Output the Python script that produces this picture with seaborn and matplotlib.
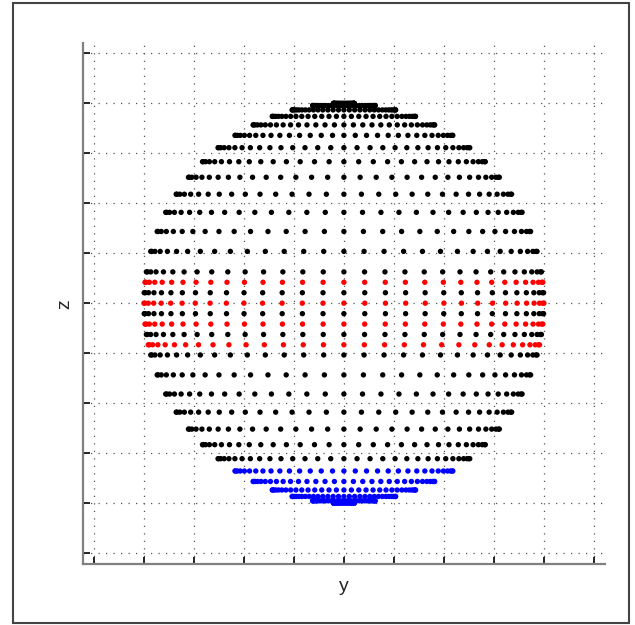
import numpy as np
import pandas as pd
import matplotlib
matplotlib.use('Agg')
import matplotlib.pyplot as plt
from matplotlib.patches import Rectangle
import seaborn as sns

# latitude rows (degrees), by colour
black_lat = [87, 81, 75, 69, 63, 57, 51, 45, 39, 33, 27, 21, 15, 9, 3,
             -3, -9, -15, -21, -27, -33, -39, -45, -51]
blue_lat = [-57, -63, -69, -75, -81, -87]
red_lat = [6, 0, -6, -12]

# longitudes of the columns (front half, back half overlaps it)
lon_deg = [-90, -84, -78, -72, -66, -60, -54, -48, -42, -36, -30, -24, -18, -12, -6,
           0, 6, 12, 18, 24, 30, 36, 42, 48, 54, 60, 66, 72, 78, 84, 90]

tick_vals = [-1.25, -1.0, -0.75, -0.5, -0.25, 0.0, 0.25, 0.5, 0.75, 1.0, 1.25]


def sphere_rows(lats, group):
    la, lo = np.meshgrid(np.radians(lats), np.radians(lon_deg), indexing='ij')
    return pd.DataFrame({
        'y': (np.cos(la) * np.sin(lo)).ravel(),
        'z': np.sin(la).ravel(),
        'group': group,
    })


df = pd.concat([sphere_rows(black_lat, 'black'),
                sphere_rows(red_lat, 'red'),
                sphere_rows(blue_lat, 'blue')], ignore_index=True)

sns.set_style('white')
plt.rcParams['font.family'] = ['Liberation Sans', 'DejaVu Sans']

fig = plt.figure(figsize=(6.35, 6.25), dpi=100)
ax = fig.add_axes([0.1312, 0.0971, 0.822, 0.834])

sns.scatterplot(data=df, x='y', y='z', hue='group',
                palette={'black': '#000000', 'red': '#ff0000', 'blue': '#0000ff'},
                s=15, linewidth=0, legend=False, ax=ax, zorder=3)

ax.set_xlim(-1.303, 1.307)
ax.set_ylim(-1.305, 1.30)
ax.set_xticks(tick_vals)
ax.set_yticks(tick_vals)
ax.set_xticklabels([])
ax.set_yticklabels([])
ax.tick_params(direction='in', length=5, width=1.2, color='black',
               bottom=True, left=True, top=False, right=False)
ax.grid(True, linestyle=(0, (1, 5)), color='#555555', linewidth=0.9)

for side in ['top', 'right']:
    ax.spines[side].set_visible(False)
for side in ['left', 'bottom']:
    ax.spines[side].set_color('#808080')
    ax.spines[side].set_linewidth(1.6)

ax.set_xlabel('y', fontsize=14, labelpad=6)
ax.set_ylabel('z', fontsize=14, labelpad=4)

# outer frame around the figure
fig.patches.append(Rectangle((12.5 / 635, 2 / 625), 616.5 / 635, 620 / 625,
                             transform=fig.transFigure, fill=False,
                             edgecolor='#444444', linewidth=1.5))

fig.savefig('out.png', dpi=100)
